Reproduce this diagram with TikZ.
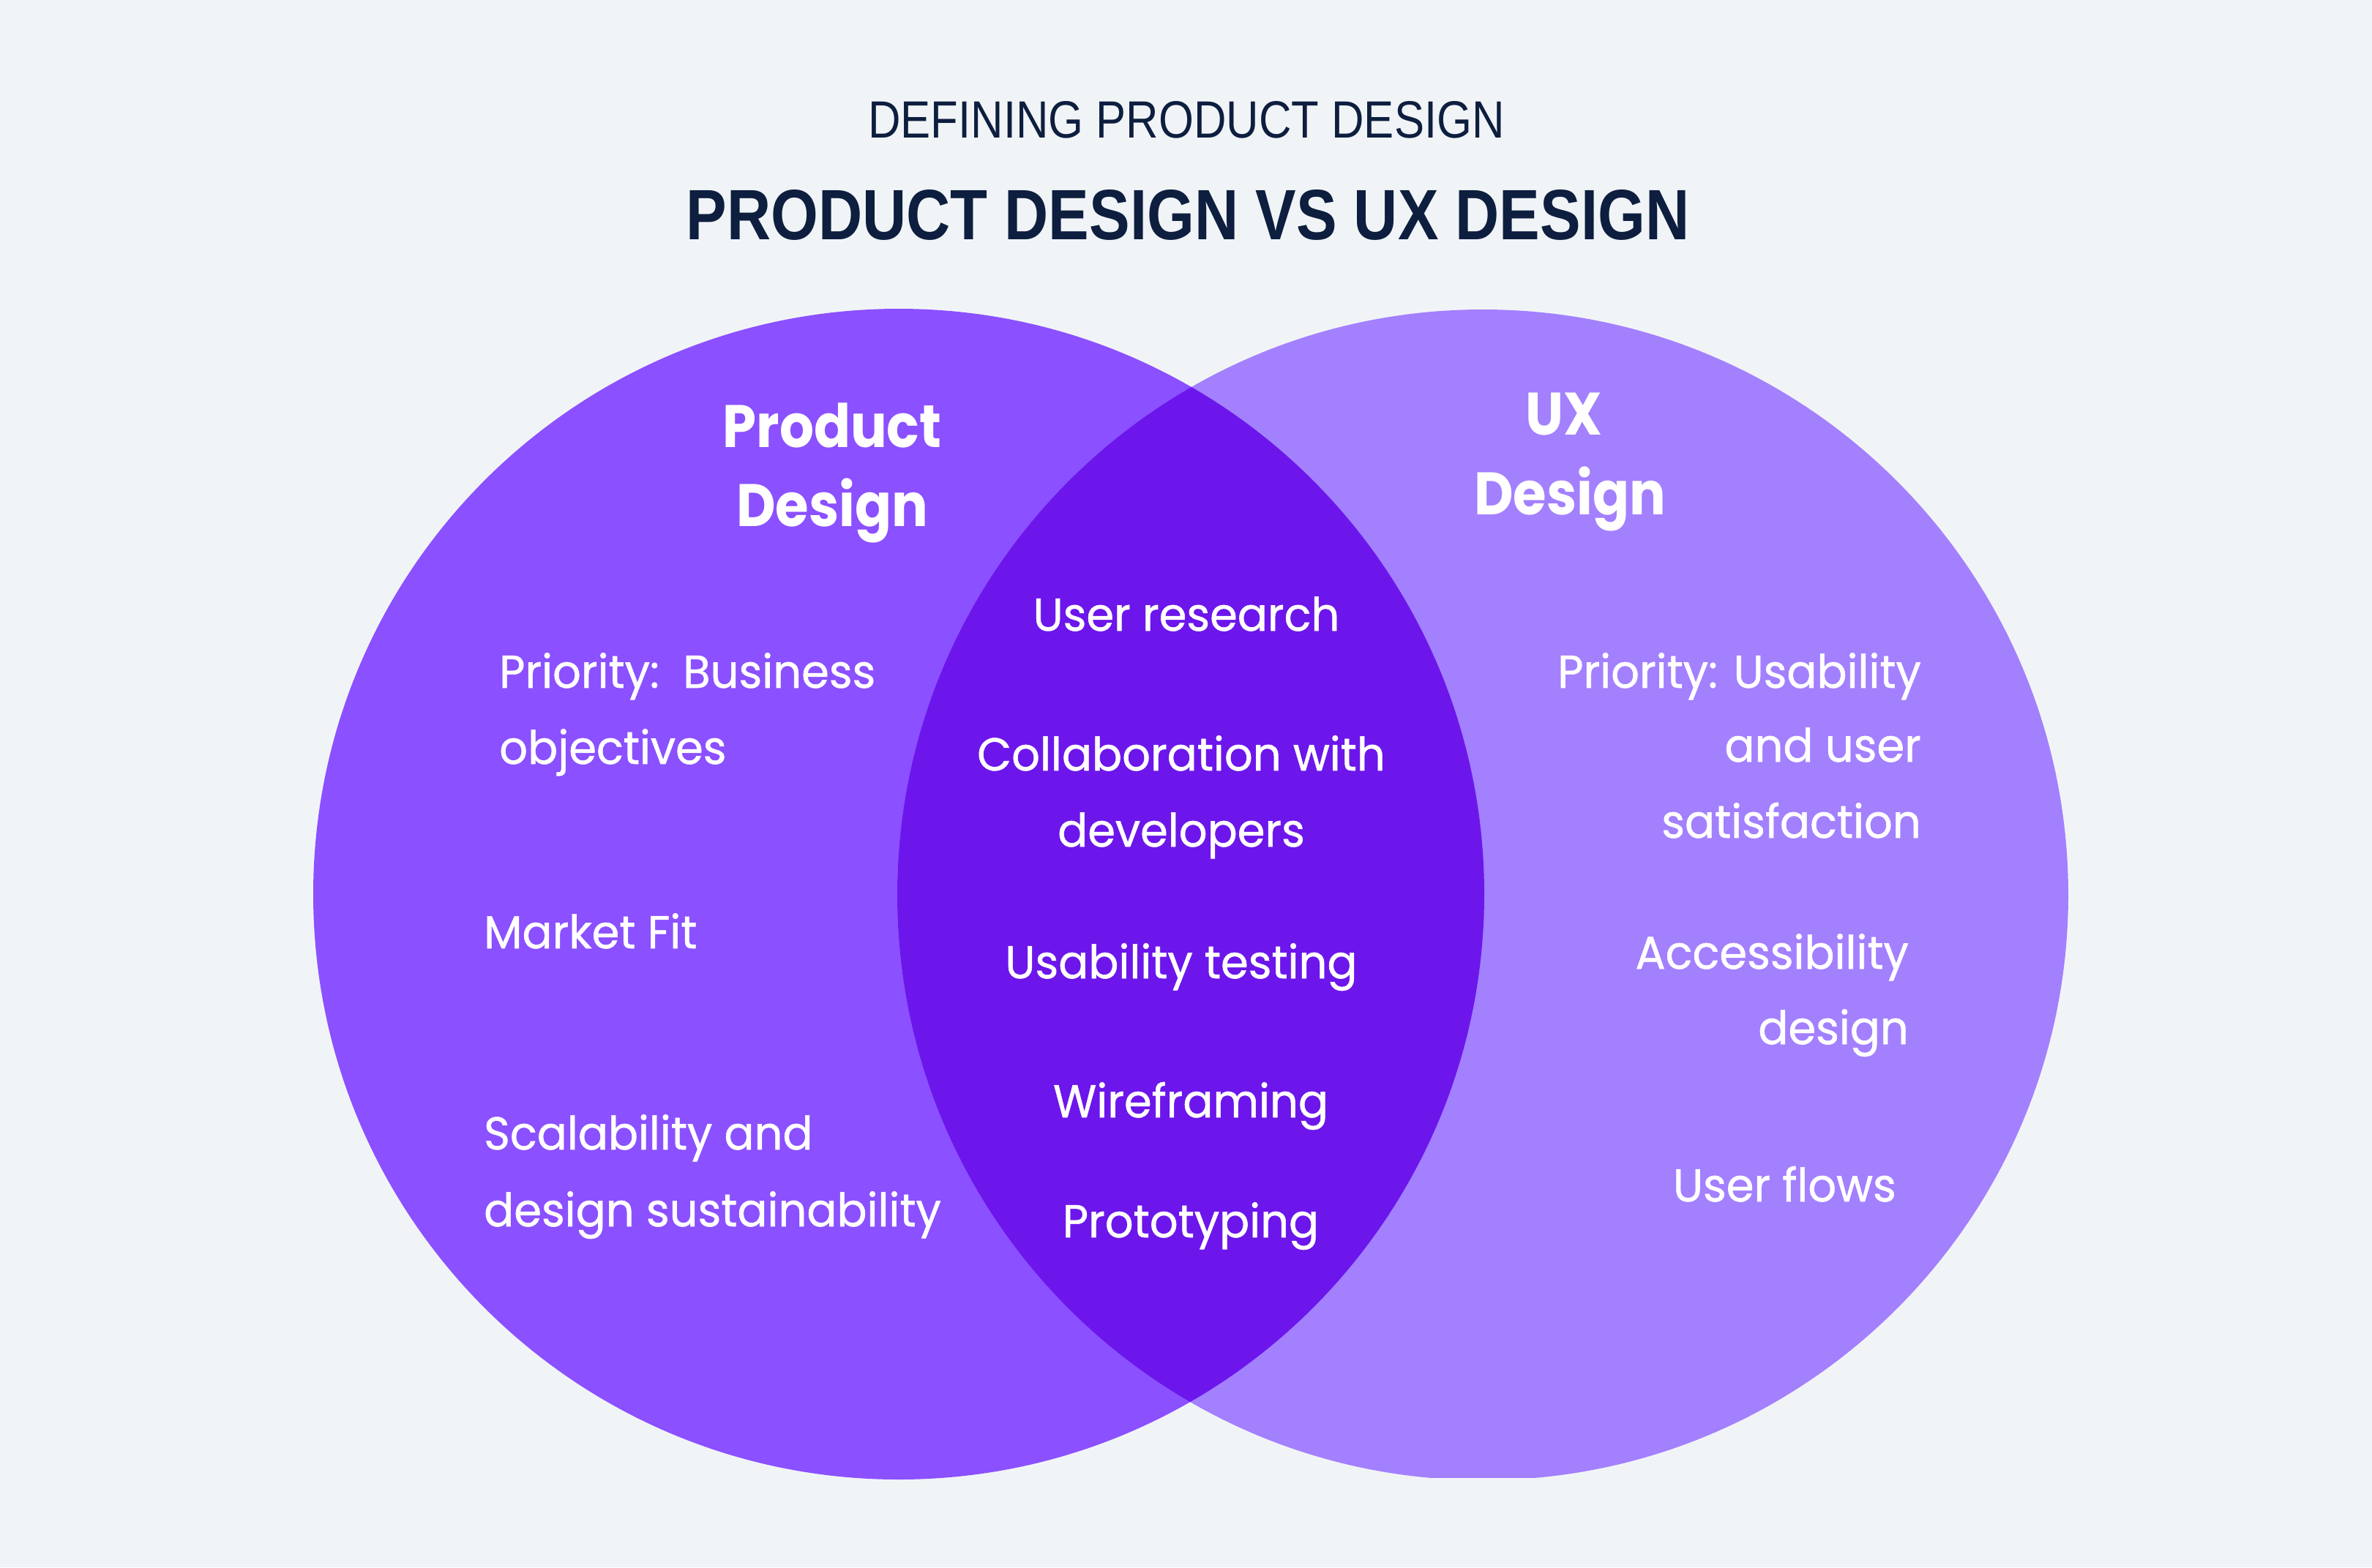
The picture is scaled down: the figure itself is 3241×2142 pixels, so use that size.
\documentclass[tikz,border=0pt]{standalone}
\usepackage{fontspec}
\usepackage{graphicx}
\newfontfamily\titlef{Liberation Sans}
\newfontfamily\bodyf{Poppins}[FakeStretch=0.965, FakeBold=0.9]
\newfontfamily\headf{Poppins}[FakeStretch=0.9]
\definecolor{bgc}{HTML}{F1F4F7}
\definecolor{leftc}{HTML}{8B50FF}
\definecolor{rightc}{HTML}{A380FE}
\definecolor{midc}{HTML}{6C16EB}
\definecolor{navy}{HTML}{0D1E3F}
\tikzset{
  bodytxt/.style={text=white, font=\bodyf\fontsize{63}{70}\selectfont, inner sep=0pt},
  headtxt/.style={text=white, font=\headf\bfseries\fontsize{82}{90}\selectfont, inner sep=0pt},
  titletxt/.style={text=navy, inner sep=0pt, anchor=base},
}
\begin{document}
\begin{tikzpicture}[x=1pt,y=-1pt]
\fill[bgc] (0,0) rectangle (3241,2142);
\useasboundingbox (0,0) rectangle (3241,2142);
% circles
\fill[leftc] (1228,1222) circle[radius=800];
\begin{scope}
  \clip (1200,0) rectangle (3241,2019);
  \fill[rightc] (2026,1223) circle[radius=800];
  \clip (1228,1222) circle[radius=800];
  \fill[midc] (2026,1223) circle[radius=800];
\end{scope}
% titles
\node[titletxt] (t1) at (1621,188) {\resizebox{869pt}{50pt}{\titlef DEFINING PRODUCT DESIGN}};
\node[titletxt] (t2) at (1623,327) {\resizebox{1370pt}{68pt}{\titlef\bfseries PRODUCT DESIGN VS UX DESIGN}};
% headers
\node[headtxt, anchor=base] (pd1) at (1137,611) {Product};
\node[headtxt, anchor=base] (pd2) at (1137,719) {Design};
\node[headtxt, anchor=base] (ux1) at (2137,594) {UX};
\node[headtxt, anchor=base] (ux2) at (2145,703) {Design};
% left
\node[bodytxt, anchor=base west] (pb1) at (682,940) {Priority:\ \ Business};
\node[bodytxt, anchor=base west] (pb2) at (682,1044) {objectives};
\node[bodytxt, anchor=base west] (mf) at (661,1296) {Market Fit};
\node[bodytxt, anchor=base west] (sc1) at (661,1571) {Scalability and};
\node[bodytxt, anchor=base west] (sc2) at (661,1676) {design sustainability};
% center
\node[bodytxt, anchor=base] (ur) at (1621,862) {User research};
\node[bodytxt, anchor=base] (co1) at (1614,1053) {Collaboration with};
\node[bodytxt, anchor=base] (co2) at (1614,1157) {developers};
\node[bodytxt, anchor=base] (ut) at (1614,1337) {Usability testing};
\node[bodytxt, anchor=base] (wf) at (1627,1527) {Wireframing};
\node[bodytxt, anchor=base] (pt) at (1627,1691) {Prototyping};
% right
\node[bodytxt, anchor=base east] (pu1) at (2625,940) {Priority: Usability};
\node[bodytxt, anchor=base east] (pu2) at (2625,1041) {and user};
\node[bodytxt, anchor=base east] (pu3) at (2625,1145) {satisfaction};
\node[bodytxt, anchor=base east] (ac1) at (2608,1324) {Accessibility};
\node[bodytxt, anchor=base east] (ac2) at (2608,1427) {design};
\node[bodytxt, anchor=base east] (uf) at (2591,1642) {User flows};
\end{tikzpicture}
\end{document}
